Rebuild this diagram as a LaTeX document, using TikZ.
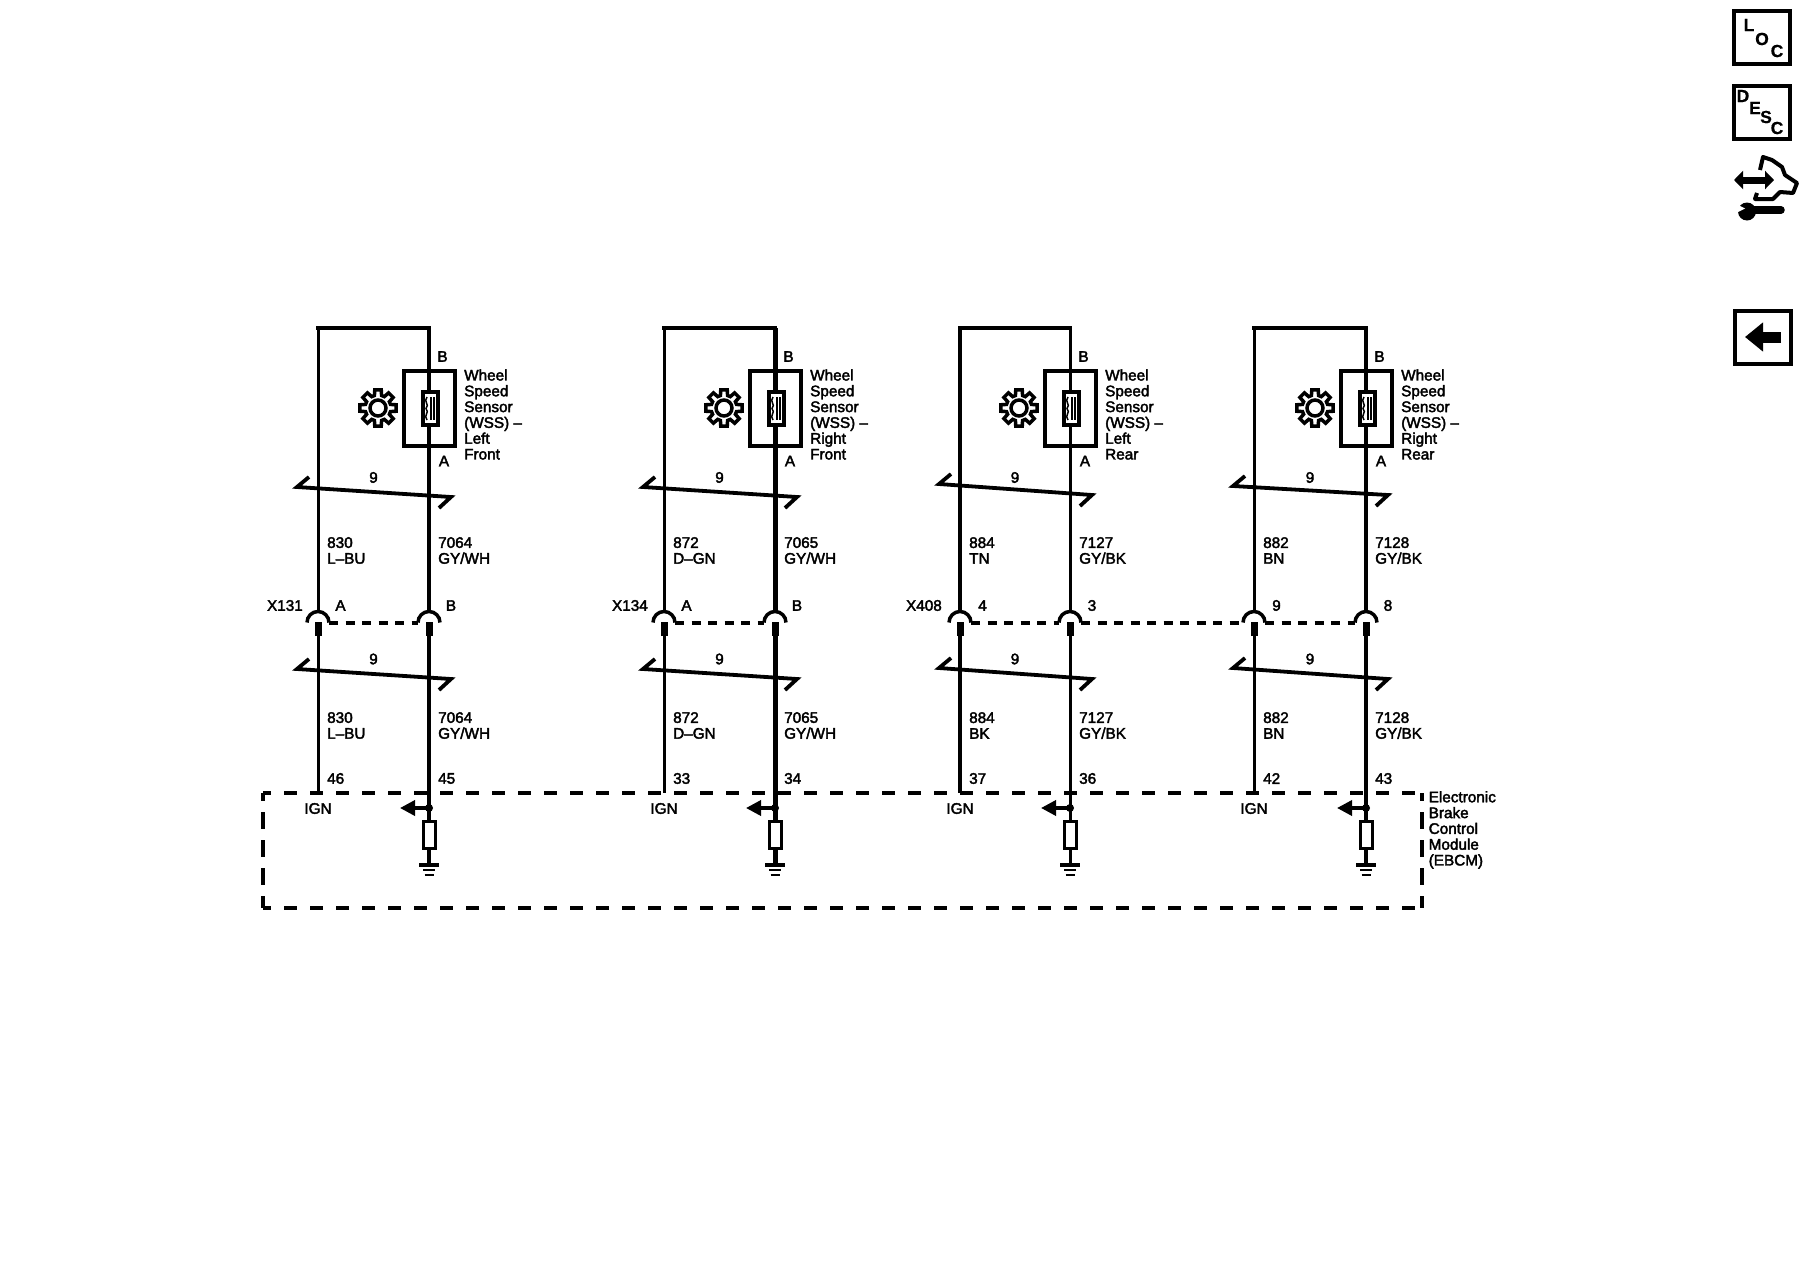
\documentclass[tikz,border=0pt]{standalone}
\usepackage{fontspec}
\usetikzlibrary{arrows.meta}
\newfontfamily\wirefont[FakeBold=2.5,Ligatures=TeX]{Liberation Sans}
\newfontfamily\iconfont[FakeBold=0.6]{Liberation Sans Bold}
\tikzset{
  wire/.style={line width=#1, line join=miter},
  wire/.default=3pt,
  cutline/.style={line width=3.8pt, line join=miter},
  conndash/.style={line width=4pt, dash pattern=on 9pt off 7.5pt},
  modhor/.style={line width=4.5pt, dash pattern=on 12.5pt off 13.5pt, dash phase=5pt},
  modver/.style={line width=4.5pt, dash pattern=on 17pt off 11pt, dash phase=9pt},
  lbl/.style={font=\wirefont\fontsize{15.3}{15.8}\selectfont, inner sep=0pt, align=left},
  sensorbox/.style={draw, line width=4pt, minimum width=51pt, minimum height=75pt, inner sep=0pt},
  pickup/.style={draw, fill=white, line width=4pt, minimum width=15pt, minimum height=33pt, inner sep=0pt},
  resbox/.style={draw, fill=white, line width=3pt, minimum width=12pt, minimum height=27pt, inner sep=0pt},
  iconbox/.style={draw, line width=4pt, minimum width=56pt, minimum height=53pt, inner sep=0pt},
  iconchar/.style={font=\iconfont\fontsize{17.5}{17.5}\selectfont, inner sep=0pt}
}
\begin{document}
\begin{tikzpicture}[x=1pt, y=-1pt]
  \useasboundingbox (0,0) rectangle (1800,1280);

  % One column per sensor
  \foreach \c/\lx/\rx/\lw/\rw/\ua/\ub/\la/\lb/\xn/\xo/\pl/\pr/\ln/\lca/\lcb/\rn/\rc/\pa/\pb/\sa/\sb in {
    1/318/429/3/4/487/497/669/679/X131/15/A/B/830/L--BU/L--BU/7064/{GY/WH}/46/45/Left/Front,
    2/664/775/3/5/487/497/669/679/X134/16/A/B/872/D--GN/D--GN/7065/{GY/WH}/33/34/Right/Front,
    3/960/1070/4/3/484/495/668/679/X408/18/4/3/884/TN/BK/7127/{GY/BK}/37/36/Left/Rear,
    4/1254/1366/3/4/486/495/668/679/{}/15/9/8/882/BN/BN/7128/{GY/BK}/42/43/Right/Rear} {

    % Wire ends
    \coordinate (lcon\c) at (\lx,612);
    \coordinate (rcon\c) at (\rx,612);
    \coordinate (ltop\c) at (\lx,328);
    \coordinate (rtop\c) at (\rx,328);
    \coordinate (lpin\c) at (\lx,636);
    \coordinate (rpin\c) at (\rx,636);
    \coordinate (lend\c) at (\lx,793);
    \coordinate (rgnd\c) at (\rx,864);
    \coordinate (rout\c) at ({\rx-29},808);

    % Sensor
    \node[sensorbox] (sen\c) at ({\rx},408.5) {};
    \draw[wire=\lw pt] (lcon\c) -- (ltop\c);
    \draw[wire=\rw pt] (rtop\c) -- (rcon\c);
    \draw[wire=4pt, line cap=rect] (ltop\c) -- (rtop\c);
    \node[pickup] (pick\c) at ({\rx+1},408.5) {};
    \draw[line width=2pt] ({\rx+2},397) -- ({\rx+2},420);
    \draw[line width=2pt] ({\rx+5},397) -- ({\rx+5},420);
    \draw[line width=1.5pt] ({\rx-2},397) .. controls ({\rx-6},402) and ({\rx+1},404) .. ({\rx-3},408.5)
      .. controls ({\rx+1},413) and ({\rx-6},415) .. ({\rx-2},420);
    \begin{scope}[shift={({\rx-51},408)}]
      \draw[line width=3.5pt, line join=miter] (-16:13) \foreach \a in {0,45,...,315} {
        -- ({\a-16}:13) -- ({\a-10}:18.5) -- ({\a+10}:18.5) -- ({\a+16}:13)} -- cycle;
      \draw[line width=3.5pt] (0,0) circle (8pt);
    \end{scope}
    \node[lbl, anchor=center] (senb\c) at ({\rx+13.5},356.5) {B};
    \node[lbl, anchor=center] (sena\c) at ({\rx+15},461) {A};
    \node[lbl, anchor=west] (sent\c) at ({\rx+35},414.5) {Wheel\\Speed\\Sensor\\(WSS) --\\\sa\\\sb};

    % Bundle marks
    \coordinate (ua\c) at ({\lx-21},\ua);
    \coordinate (ub\c) at ({\rx+22},\ub);
    \draw[cutline] ({\lx-9},{\ua-10}) -- (ua\c) -- (ub\c) -- ({\rx+10},{\ub+11});
    \node[lbl] (un\c) at ({(\lx+\rx)/2},477.5) {9};
    \coordinate (la\c) at ({\lx-21},\la);
    \coordinate (lb\c) at ({\rx+22},\lb);
    \draw[cutline] ({\lx-9},{\la-10}) -- (la\c) -- (lb\c) -- ({\rx+10},{\lb+11});
    \node[lbl] (ln\c) at ({(\lx+\rx)/2},659) {9};

    % Connector
    \coordinate (laL\c) at ({\lx-11},622.5);
    \coordinate (laR\c) at ({\lx+11},622.5);
    \coordinate (raL\c) at ({\rx-11},622.5);
    \coordinate (raR\c) at ({\rx+11},622.5);
    \draw[line width=3.5pt] (laL\c) arc[start angle=180, end angle=0, radius=11pt];
    \draw[line width=3.5pt] (raL\c) arc[start angle=180, end angle=0, radius=11pt];
    \draw[line width=7pt] ({\lx},622) -- (lpin\c);
    \draw[line width=7pt] ({\rx},622) -- (rpin\c);
    \node[lbl, anchor=east] (xn\c) at ({\lx-\xo},605.5) {\xn};
    \node[lbl] (pl\c) at ({\lx+22.5},605.5) {\pl};
    \node[lbl] (pr\c) at ({\rx+22},605.5) {\pr};

    % Wires to the module
    \draw[wire=\lw pt] (lpin\c) -- (lend\c);
    \draw[wire=\rw pt] (rpin\c) -- (rgnd\c);
    \node[lbl, anchor=west] (lup\c) at ({\lx+9},550.5) {\ln\\\lca};
    \node[lbl, anchor=west] (rup\c) at ({\rx+9},550.5) {\rn\\\rc};
    \node[lbl, anchor=west] (llo\c) at ({\lx+9},725.5) {\ln\\\lcb};
    \node[lbl, anchor=west] (rlo\c) at ({\rx+9},725.5) {\rn\\\rc};
    \node[lbl, anchor=west] (pa\c) at ({\lx+9},778.5) {\pa};
    \node[lbl, anchor=west] (pb\c) at ({\rx+9},778.5) {\pb};

    % Inside the module
    \node[lbl] (ign\c) at (\lx,808.5) {IGN};
    \node[resbox] (res\c) at ({\rx+0.5},834.5) {};
    \fill ({\rx},808) circle (4pt);
    \draw[line width=3.5pt, -{Triangle[length=15pt, width=15pt]}] ({\rx},808) -- (rout\c);
    \draw[line width=4pt] ({\rx-10},865) -- ({\rx+10},865);
    \draw[line width=2pt] ({\rx-6},870) -- ({\rx+6},870);
    \draw[line width=2pt] ({\rx-4.5},875) -- ({\rx+4.5},875);
  }

  % Dashed links between connector halves
  \draw[conndash] (laR1) -- (raL1);
  \draw[conndash] (laR2) -- (raL2);
  \draw[conndash] (laR3) -- (raL3);
  \draw[conndash] (raR3) -- (laL4);
  \draw[conndash] (laR4) -- (raL4);

  % Module outline
  \coordinate (modtl) at (263,793);
  \coordinate (modtr) at (1422,793);
  \coordinate (modbl) at (263,908);
  \coordinate (modbr) at (1422,908);
  \draw[modhor] (modtl) -- (modtr);
  \draw[modhor] (modbl) -- (modbr);
  \draw[modver] (modtl) -- (modbl);
  \draw[modver] (modtr) -- (modbr);
  \node[lbl, anchor=north west] (modt) at (1428.5,791) {Electronic\\Brake\\Control\\Module\\(EBCM)};

  % Icons
  \node[iconbox] (loc) at (1762,37) {};
  \node[iconchar] (loc1) at (1749,25) {L};
  \node[iconchar] (loc2) at (1762,39) {O};
  \node[iconchar] (loc3) at (1777,51) {C};
  \node[iconbox] (desc) at (1762,112) {};
  \node[iconchar] (desc1) at (1743,96) {D};
  \node[iconchar] (desc2) at (1755,108) {E};
  \node[iconchar] (desc3) at (1766,117) {S};
  \node[iconchar] (desc4) at (1777,128) {C};
  \draw[line width=7pt, {Triangle[length=9pt, width=18pt]}-{Triangle[length=9pt, width=18pt]}] (1734,180) -- (1774,180);
  \draw[line width=4pt, line join=round] (1760,170) -- (1763,157) -- (1772,160) -- (1782,167) -- (1785,175)
    -- (1797,183) -- (1793,193) -- (1780,192) -- (1773,199) -- (1755,199) -- (1757,193);
  \draw[line width=7.5pt, line cap=round] (1750,210) -- (1781,210);
  \fill (1747,211.5) circle (9pt);
  \fill[white] (1736,204) -- (1745,208.5) -- (1738,212) -- cycle;
  \node[iconbox] (back) at (1762.5,337.5) {};
  \draw[line width=11pt, -{Triangle[length=18pt, width=28pt]}] (1781,337) -- (1745,337);
\end{tikzpicture}
\end{document}
